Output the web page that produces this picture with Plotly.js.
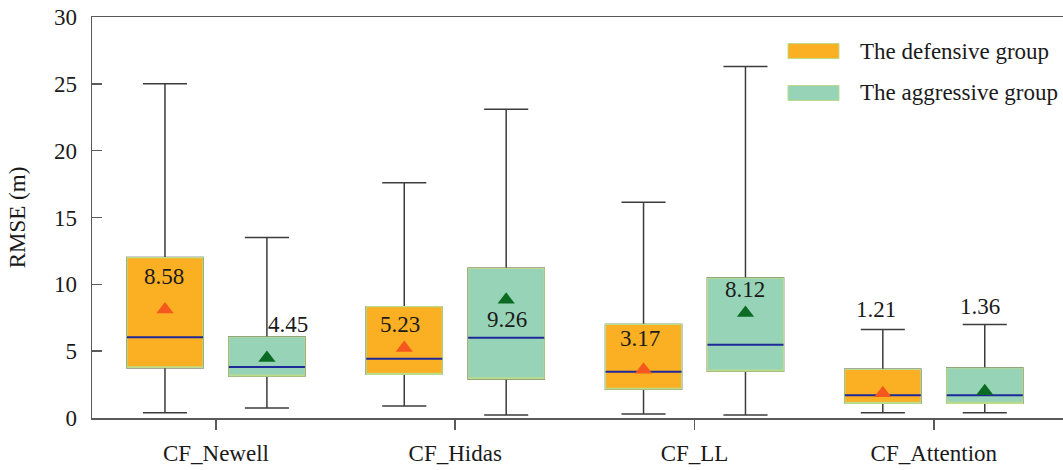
<!DOCTYPE html>
<html><head><meta charset="utf-8">
<script src="https://cdn.plot.ly/plotly-3.0.1.min.js"></script>
<style>html,body{margin:0;padding:0;background:#fff}#chart{width:1063px;height:470px}</style>
</head><body><div id="chart"></div>
<script>
// ---- data ----
const categories = ['CF_Newell', 'CF_Hidas', 'CF_LL', 'CF_Attention'];
const groupNames = ['The defensive group', 'The aggressive group'];

const defLower  = [0.40, 0.90, 0.30, 0.40];
const defQ1     = [3.76, 3.27, 2.15, 1.10];
const defMedian = [6.05, 4.44, 3.46, 1.70];
const defQ3     = [12.0, 8.33, 7.00, 3.64];
const defUpper  = [25.0, 17.6, 16.15, 6.63];
const defMean   = [8.12, 5.24, 3.61, 1.85];
const defLabels = ['8.58', '5.23', '3.17', '1.21'];

const aggLower  = [0.75, 0.22, 0.22, 0.40];
const aggQ1     = [3.14, 2.92, 3.50, 1.10];
const aggMedian = [3.81, 6.00, 5.48, 1.70];
const aggQ3     = [6.06, 11.2, 10.47, 3.74];
const aggUpper  = [13.5, 23.1, 26.3, 7.00];
const aggMean   = [4.49, 8.84, 7.85, 2.01];
const aggLabels = ['4.45', '9.26', '8.12', '1.36'];

// ---- styles ----
const FONT = 'Liberation Serif, Times New Roman, Times, serif';
const defFill = '#FBAF22', aggFill = '#97D3B6';
const edgeColor = '#BCDC8C';
const whiskerColor = '#3c3c3c';
const medianColor = '#1F2A9A';
const defMark = '#F4581E', aggMark = '#0B6B24';

function group(og, lower, q1, med, q3, upper, mean, fill, mark) {
  const base = {type: 'box', orientation: 'v', x: categories, offsetgroup: og,
                boxpoints: false, hoverinfo: 'skip', showlegend: false};
  return [
    Object.assign({}, base, {q1: q1, median: med, q3: q3, lowerfence: lower, upperfence: upper,
      fillcolor: 'rgba(0,0,0,0)', line: {color: whiskerColor, width: 1.5}, whiskerwidth: 0.58}),
    Object.assign({}, base, {q1: q1, median: q1, q3: q3, lowerfence: q1, upperfence: q3,
      fillcolor: fill, line: {color: edgeColor, width: 1.2}, whiskerwidth: 0}),
    Object.assign({}, base, {q1: med, median: med, q3: med, lowerfence: med, upperfence: med,
      fillcolor: 'rgba(0,0,0,0)', line: {color: medianColor, width: 2}, whiskerwidth: 0}),
    {type: 'scatter', mode: 'markers', x: categories, y: mean, offsetgroup: og,
      marker: {symbol: 'triangle-up', size: 15, color: mark}, hoverinfo: 'skip', showlegend: false}
  ];
}

const data = [].concat(
  group('d', defLower, defQ1, defMedian, defQ3, defUpper, defMean, defFill, defMark),
  group('a', aggLower, aggQ1, aggMedian, aggQ3, aggUpper, aggMean, aggFill, aggMark)
);

// ---- label placement (layout) ----
const defLabelY = [10.57, 7.03, 5.98, 8.15], defShift = [-52, -55, -55, -58];
const aggLabelY = [6.96, 7.40, 9.65, 8.32],  aggShift = [72, 52, 50, 46];
const annotations = [];
categories.forEach((c, i) => {
  annotations.push({x: c, y: defLabelY[i], xref: 'x', yref: 'y', xshift: defShift[i], text: defLabels[i],
    showarrow: false, font: {family: FONT, size: 23, color: '#1a1a1a'}});
  annotations.push({x: c, y: aggLabelY[i], xref: 'x', yref: 'y', xshift: aggShift[i], text: aggLabels[i],
    showarrow: false, font: {family: FONT, size: 23, color: '#1a1a1a'}});
});
// legend
const legY = [0.915, 0.8105];
const legFill = [defFill, aggFill];
const shapes = [];
groupNames.forEach((g, i) => {
  shapes.push({type: 'rect', xref: 'paper', yref: 'paper', x0: 0.7168, x1: 0.7693,
    y0: legY[i] - 0.0187, y1: legY[i] + 0.0187, fillcolor: legFill[i], line: {color: edgeColor, width: 1}});
  annotations.push({xref: 'paper', yref: 'paper', x: 0.7889, y: legY[i], xanchor: 'left', yanchor: 'middle',
    text: g, showarrow: false, font: {family: FONT, size: 23, color: '#1a1a1a'}});
});

const layout = {
  width: 1063, height: 470,
  margin: {l: 92, r: 0, t: 17, b: 52},
  paper_bgcolor: '#fff', plot_bgcolor: '#fff',
  font: {family: FONT, size: 23, color: '#1a1a1a'},
  showlegend: false,
  boxmode: 'group', boxgap: 0.148, boxgroupgap: 0.254,
  scattermode: 'group', scattergap: 0.148,
  xaxis: {type: 'category', range: [-0.518, 3.54], showline: true, mirror: true, linecolor: '#5a5a5a', linewidth: 1.5,
    ticks: 'outside', ticklen: 10, tickwidth: 1.5, tickcolor: '#5a5a5a', showgrid: false, zeroline: false,
    ticklabelstandoff: 4, tickfont: {family: FONT, size: 23, color: '#1a1a1a'}},
  yaxis: {range: [0, 30], dtick: 5, showline: true, linecolor: '#5a5a5a', linewidth: 1.5,
    ticks: 'inside', ticklen: 10, tickwidth: 1.5, tickcolor: '#5a5a5a', showgrid: false, zeroline: false,
    ticklabelstandoff: 9, tickfont: {family: FONT, size: 23, color: '#1a1a1a'},
    title: {text: 'RMSE (m)', standoff: 22, font: {family: FONT, size: 23, color: '#1a1a1a'}}},
  shapes: shapes,
  annotations: annotations
};

Plotly.newPlot('chart', data, layout, {displayModeBar: false, staticPlot: true});
</script>
</body></html>
